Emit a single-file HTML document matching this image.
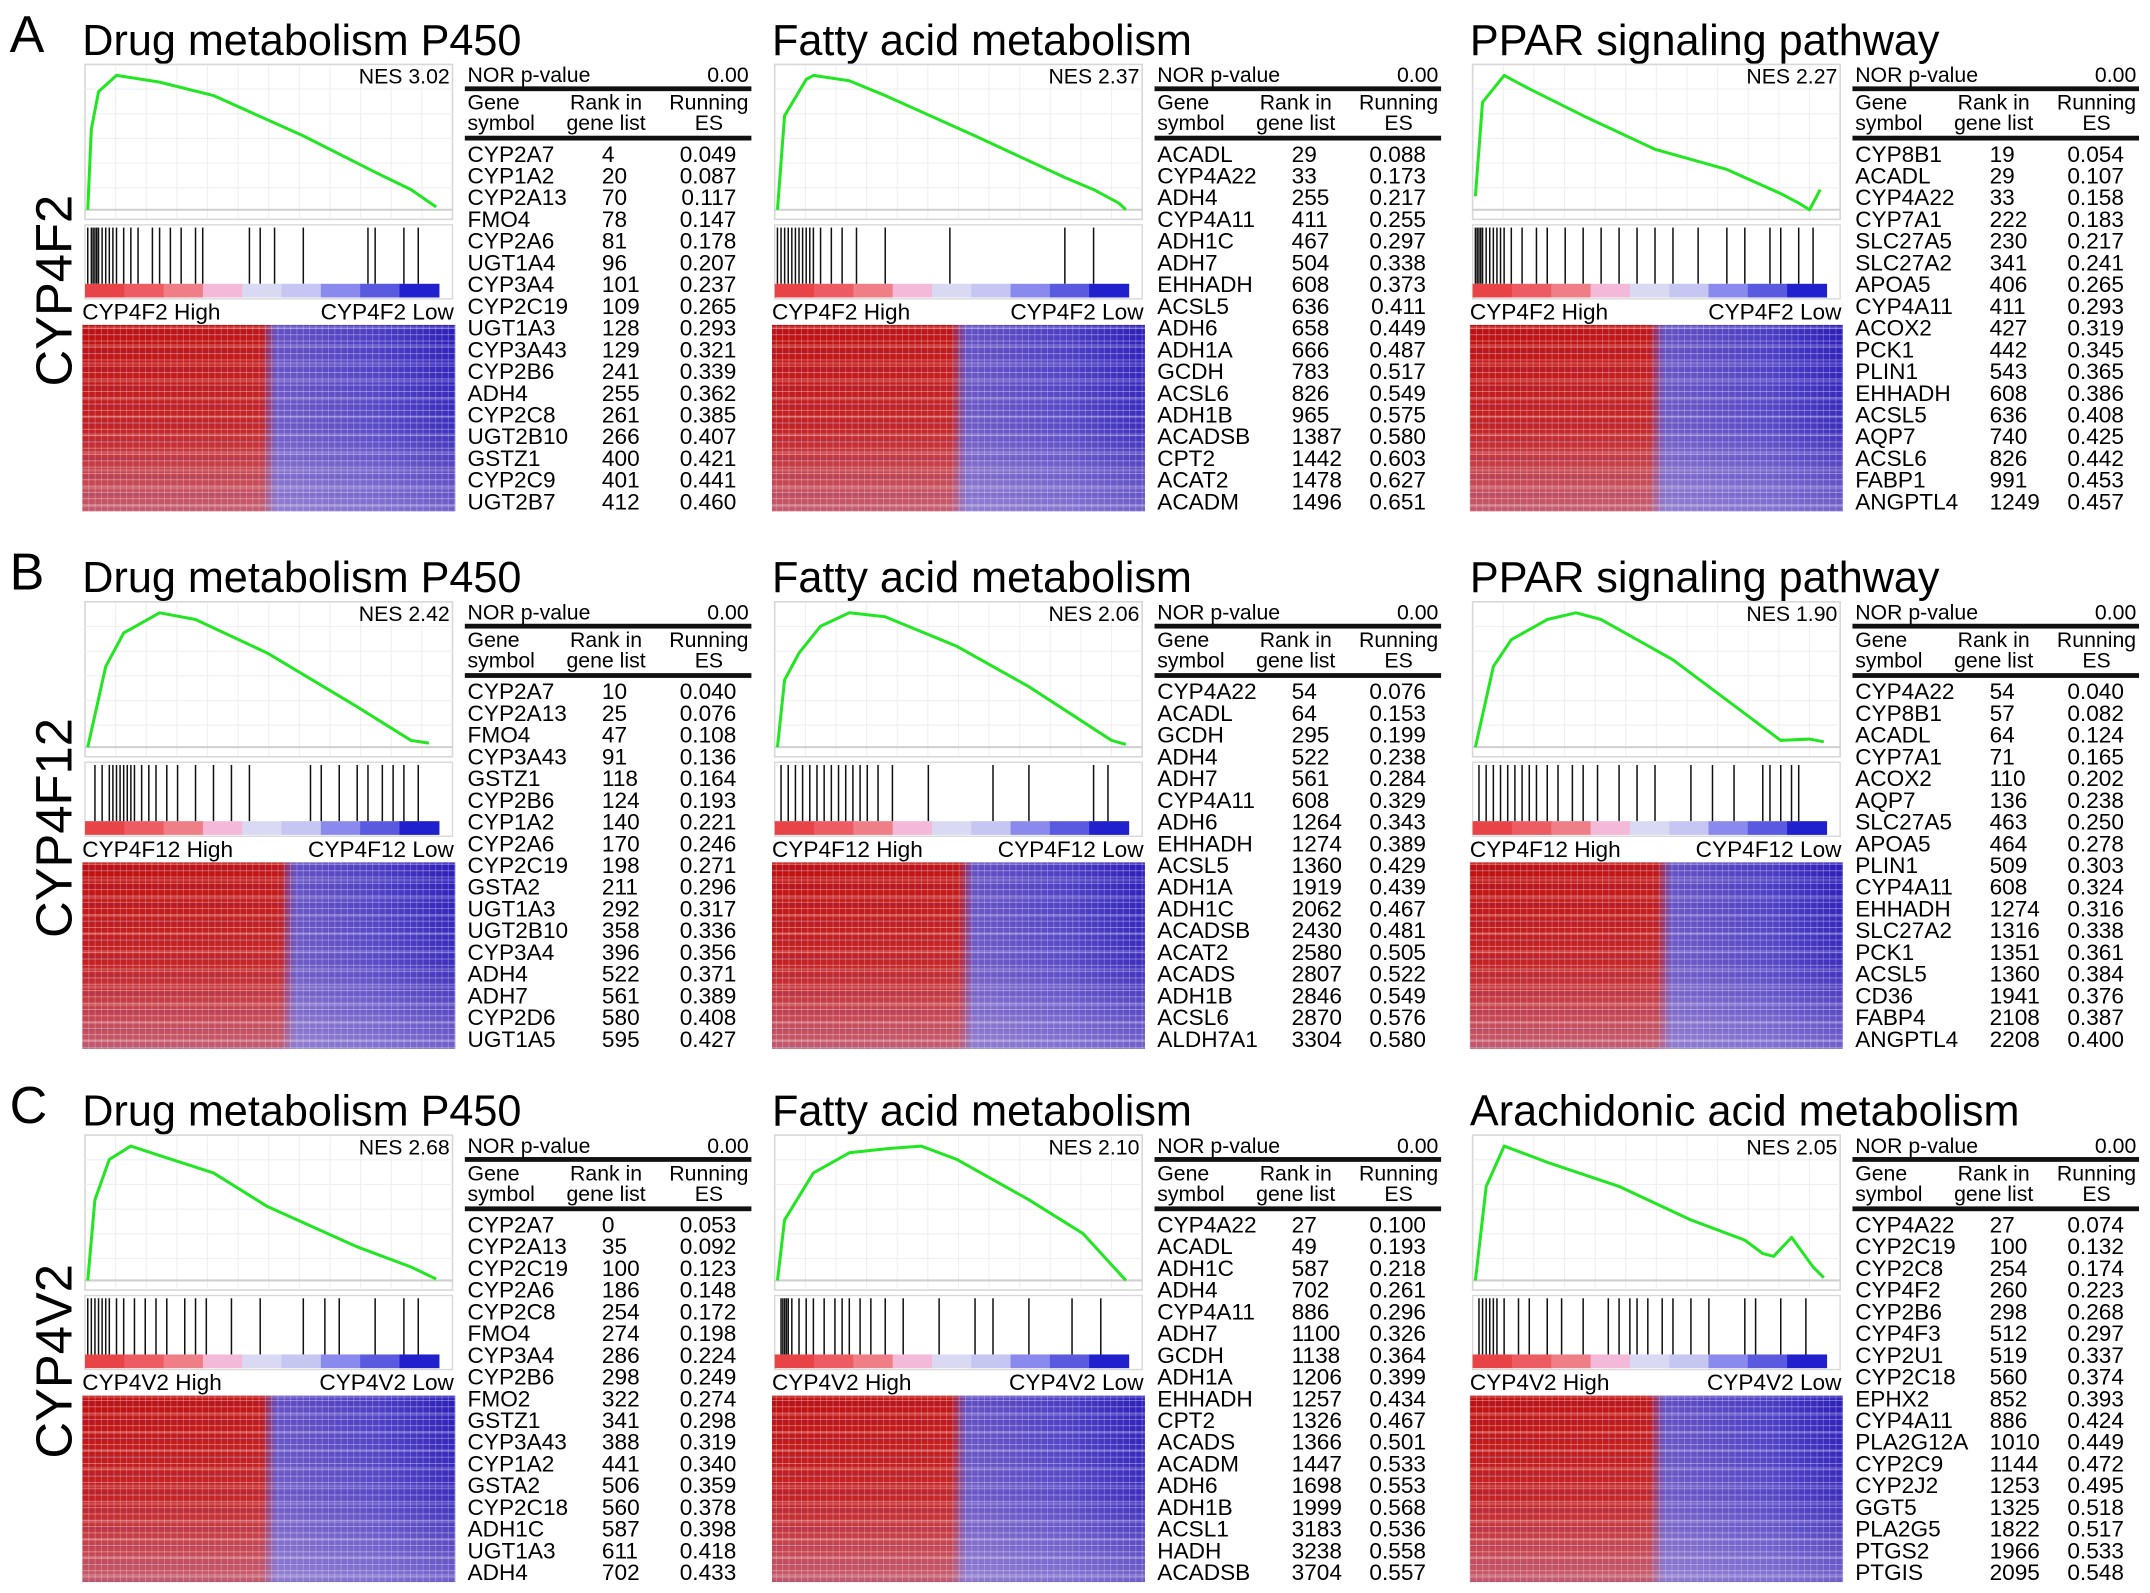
<!DOCTYPE html>
<html><head><meta charset="utf-8">
<style>
html,body{margin:0;padding:0;background:#fff;}
svg{display:block;font-family:"Liberation Sans",Arial,sans-serif;}
</style></head>
<body>
<svg id="fig" width="2150" height="1593" viewBox="0 0 1568 1162" preserveAspectRatio="none" xmlns="http://www.w3.org/2000/svg">
<defs>
<pattern id="grid" width="4.6" height="4.6" patternUnits="userSpaceOnUse">
<rect x="0" y="0" width="4.6" height="0.7" fill="#fff" fill-opacity="0.35"/>
<rect x="0" y="0" width="0.7" height="4.6" fill="#fff" fill-opacity="0.25"/>
</pattern>
<pattern id="bands" width="272" height="13" patternUnits="userSpaceOnUse">
<rect x="0" y="4" width="272" height="2" fill="#ffffff" fill-opacity="0.18"/>
<rect x="0" y="9" width="272" height="1.5" fill="#3030c0" fill-opacity="0.12"/>
</pattern>
<linearGradient id="fade" x1="0" y1="0" x2="0" y2="1">
<stop offset="0" stop-color="#ffffff" stop-opacity="0"/>
<stop offset="0.55" stop-color="#e0c8e0" stop-opacity="0.1"/>
<stop offset="1" stop-color="#c8b4e0" stop-opacity="0.45"/>
</linearGradient>
</defs>
</svg>
<script>
const rowLabels=["CYP4F2","CYP4F12","CYP4V2"];
const rowLetters=["A","B","C"];
const titles=[["Drug metabolism P450","Fatty acid metabolism","PPAR signaling pathway"],
["Drug metabolism P450","Fatty acid metabolism","PPAR signaling pathway"],
["Drug metabolism P450","Fatty acid metabolism","Arachidonic acid metabolism"]];
const nesValues=[["3.02","2.37","2.27"],["2.42","2.06","1.90"],["2.68","2.10","2.05"]];
const esRanks=[
[[0,0.01,0.03,0.08,0.2,0.35,0.6,0.8,0.9,0.97],[0,0.02,0.08,0.1,0.2,0.3,0.55,0.8,0.88,0.95,0.97],[0,0.02,0.08,0.15,0.3,0.5,0.7,0.85,0.9,0.93,0.96]],
[[0,0.05,0.1,0.2,0.3,0.5,0.75,0.9,0.95],[0,0.02,0.06,0.12,0.2,0.3,0.5,0.7,0.93,0.97],[0,0.05,0.1,0.2,0.28,0.35,0.55,0.75,0.85,0.93,0.97]],
[[0,0.02,0.06,0.12,0.2,0.35,0.5,0.75,0.9,0.97],[0,0.02,0.1,0.2,0.3,0.4,0.5,0.7,0.85,0.97],[0,0.03,0.08,0.2,0.4,0.6,0.75,0.8,0.83,0.88,0.94,0.97]]];
const esVals=[
[[0,0.6,0.88,1,0.95,0.85,0.55,0.28,0.15,0.02],[0,0.7,0.97,1,0.96,0.85,0.55,0.24,0.15,0.05,0.0],[0.1,0.8,1,0.9,0.7,0.45,0.3,0.12,0.05,0.0,0.15]],
[[0,0.6,0.85,1,0.95,0.7,0.3,0.05,0.03],[0,0.5,0.7,0.9,1,0.97,0.75,0.45,0.05,0.02],[0,0.6,0.8,0.95,1,0.95,0.65,0.25,0.05,0.06,0.04]],
[[0,0.6,0.9,1,0.93,0.8,0.55,0.25,0.1,0.01],[0,0.45,0.8,0.95,0.98,1,0.9,0.6,0.35,0.0],[0,0.7,1,0.88,0.7,0.45,0.3,0.2,0.18,0.32,0.1,0.02]]];
const hitRanks=[
[[0,0.01,0.015,0.02,0.025,0.03,0.04,0.05,0.06,0.07,0.08,0.1,0.12,0.14,0.18,0.2,0.23,0.26,0.3,0.32,0.45,0.48,0.52,0.6,0.78,0.8,0.88,0.92],
 [0,0.01,0.02,0.03,0.04,0.05,0.06,0.07,0.08,0.09,0.1,0.12,0.15,0.18,0.22,0.3,0.48,0.8,0.88],
 [0,0.005,0.01,0.015,0.02,0.03,0.04,0.05,0.06,0.07,0.08,0.1,0.13,0.17,0.2,0.25,0.3,0.35,0.4,0.45,0.5,0.55,0.62,0.7,0.75,0.82,0.85,0.9,0.94]],
[[0.02,0.04,0.06,0.07,0.08,0.09,0.1,0.11,0.12,0.13,0.15,0.17,0.19,0.22,0.25,0.3,0.35,0.4,0.45,0.62,0.65,0.7,0.75,0.78,0.82,0.85,0.88,0.92],
 [0.01,0.03,0.05,0.07,0.09,0.11,0.13,0.15,0.17,0.19,0.21,0.23,0.25,0.28,0.32,0.42,0.6,0.7,0.88,0.92],
 [0.01,0.03,0.05,0.07,0.09,0.11,0.13,0.15,0.17,0.2,0.23,0.27,0.3,0.34,0.4,0.45,0.5,0.6,0.66,0.72,0.8,0.82,0.85,0.88,0.9]],
[[0,0.01,0.02,0.03,0.04,0.05,0.06,0.08,0.1,0.13,0.16,0.19,0.22,0.27,0.3,0.33,0.4,0.48,0.6,0.66,0.7,0.8,0.88,0.92],
 [0.01,0.015,0.02,0.025,0.03,0.04,0.06,0.08,0.1,0.13,0.16,0.18,0.2,0.23,0.26,0.3,0.35,0.45,0.55,0.6,0.7,0.82,0.9],
 [0.01,0.02,0.03,0.04,0.05,0.06,0.08,0.12,0.15,0.2,0.24,0.3,0.37,0.4,0.43,0.45,0.48,0.52,0.55,0.6,0.65,0.75,0.78,0.85,0.92]]];
const colorSteps=["#e84448","#ec5c62","#f07e86","#f4b8d8","#d9d9f4","#c6c6f2","#8a8aee","#5a5ae0","#2020cc"];
const redFrac=[[0.5,0.5,0.5],[0.55,0.52,0.52],[0.5,0.5,0.5]];
const tableGenes=[
[["CYP2A7","CYP1A2","CYP2A13","FMO4","CYP2A6","UGT1A4","CYP3A4","CYP2C19","UGT1A3","CYP3A43","CYP2B6","ADH4","CYP2C8","UGT2B10","GSTZ1","CYP2C9","UGT2B7"],
 ["ACADL","CYP4A22","ADH4","CYP4A11","ADH1C","ADH7","EHHADH","ACSL5","ADH6","ADH1A","GCDH","ACSL6","ADH1B","ACADSB","CPT2","ACAT2","ACADM"],
 ["CYP8B1","ACADL","CYP4A22","CYP7A1","SLC27A5","SLC27A2","APOA5","CYP4A11","ACOX2","PCK1","PLIN1","EHHADH","ACSL5","AQP7","ACSL6","FABP1","ANGPTL4"]],
[["CYP2A7","CYP2A13","FMO4","CYP3A43","GSTZ1","CYP2B6","CYP1A2","CYP2A6","CYP2C19","GSTA2","UGT1A3","UGT2B10","CYP3A4","ADH4","ADH7","CYP2D6","UGT1A5"],
 ["CYP4A22","ACADL","GCDH","ADH4","ADH7","CYP4A11","ADH6","EHHADH","ACSL5","ADH1A","ADH1C","ACADSB","ACAT2","ACADS","ADH1B","ACSL6","ALDH7A1"],
 ["CYP4A22","CYP8B1","ACADL","CYP7A1","ACOX2","AQP7","SLC27A5","APOA5","PLIN1","CYP4A11","EHHADH","SLC27A2","PCK1","ACSL5","CD36","FABP4","ANGPTL4"]],
[["CYP2A7","CYP2A13","CYP2C19","CYP2A6","CYP2C8","FMO4","CYP3A4","CYP2B6","FMO2","GSTZ1","CYP3A43","CYP1A2","GSTA2","CYP2C18","ADH1C","UGT1A3","ADH4"],
 ["CYP4A22","ACADL","ADH1C","ADH4","CYP4A11","ADH7","GCDH","ADH1A","EHHADH","CPT2","ACADS","ACADM","ADH6","ADH1B","ACSL1","HADH","ACADSB"],
 ["CYP4A22","CYP2C19","CYP2C8","CYP4F2","CYP2B6","CYP4F3","CYP2U1","CYP2C18","EPHX2","CYP4A11","PLA2G12A","CYP2C9","CYP2J2","GGT5","PLA2G5","PTGS2","PTGIS"]]];
const tableRanks=[
[[4,20,70,78,81,96,101,109,128,129,241,255,261,266,400,401,412],
 [29,33,255,411,467,504,608,636,658,666,783,826,965,1387,1442,1478,1496],
 [19,29,33,222,230,341,406,411,427,442,543,608,636,740,826,991,1249]],
[[10,25,47,91,118,124,140,170,198,211,292,358,396,522,561,580,595],
 [54,64,295,522,561,608,1264,1274,1360,1919,2062,2430,2580,2807,2846,2870,3304],
 [54,57,64,71,110,136,463,464,509,608,1274,1316,1351,1360,1941,2108,2208]],
[[0,35,100,186,254,274,286,298,322,341,388,441,506,560,587,611,702],
 [27,49,587,702,886,1100,1138,1206,1257,1326,1366,1447,1698,1999,3183,3238,3704],
 [27,100,254,260,298,512,519,560,852,886,1010,1144,1253,1325,1822,1966,2095]]];
const tableES=[
[["0.049","0.087","0.117","0.147","0.178","0.207","0.237","0.265","0.293","0.321","0.339","0.362","0.385","0.407","0.421","0.441","0.460"],
 ["0.088","0.173","0.217","0.255","0.297","0.338","0.373","0.411","0.449","0.487","0.517","0.549","0.575","0.580","0.603","0.627","0.651"],
 ["0.054","0.107","0.158","0.183","0.217","0.241","0.265","0.293","0.319","0.345","0.365","0.386","0.408","0.425","0.442","0.453","0.457"]],
[["0.040","0.076","0.108","0.136","0.164","0.193","0.221","0.246","0.271","0.296","0.317","0.336","0.356","0.371","0.389","0.408","0.427"],
 ["0.076","0.153","0.199","0.238","0.284","0.329","0.343","0.389","0.429","0.439","0.467","0.481","0.505","0.522","0.549","0.576","0.580"],
 ["0.040","0.082","0.124","0.165","0.202","0.238","0.250","0.278","0.303","0.324","0.316","0.338","0.361","0.384","0.376","0.387","0.400"]],
[["0.053","0.092","0.123","0.148","0.172","0.198","0.224","0.249","0.274","0.298","0.319","0.340","0.359","0.378","0.398","0.418","0.433"],
 ["0.100","0.193","0.218","0.261","0.296","0.326","0.364","0.399","0.434","0.467","0.501","0.533","0.553","0.568","0.536","0.558","0.557"],
 ["0.074","0.132","0.174","0.223","0.268","0.297","0.337","0.374","0.393","0.424","0.449","0.472","0.495","0.518","0.517","0.533","0.548"]]];

const NS="http://www.w3.org/2000/svg";
const svg=document.getElementById('fig');
function mk(tag,attrs,parent,text){const e=document.createElementNS(NS,tag);for(const k in attrs)e.setAttribute(k,attrs[k]);if(text!==undefined)e.textContent=text;(parent||svg).appendChild(e);return e;}
const colX=[60,563,1072];
const rowY=[0,392,781];
const PW=268;
function xScale(px,f){return px+2+f*(PW-6);}
function yScale(top,v){return 153-v*(153-top);}

for(let r=0;r<3;r++){
  const oy=rowY[r];
  const L=mk('text',{x:7,y:oy+38,'font-size':38},svg,rowLetters[r]);
  
  
  const cy=oy+212;
  const RL=mk('text',{x:0,y:0,'font-size':37,'text-anchor':'middle',transform:`translate(52 ${cy}) rotate(-90)`},svg,rowLabels[r]);
  
  
  for(let c=0;c<3;c++){
    const px=colX[c]+2;
    const g=mk('g',{});
    
    
    const t=mk('text',{x:colX[c],y:oy+40,'font-size':31.5},g,titles[r][c]);
    
    
    const box=mk('rect',{x:px,y:oy+47,width:PW,height:113,fill:'#fff',stroke:'#d8d8d8','stroke-width':1.2},g);
    
    
    for(let i=1;i<12;i++){mk('line',{x1:px+i*PW/12,x2:px+i*PW/12,y1:oy+48,y2:oy+159,stroke:'#efefef','stroke-width':0.8},g);}
    for(let i=1;i<6;i++){mk('line',{x1:px,x2:px+PW,y1:oy+47+i*18,y2:oy+47+i*18,stroke:'#efefef','stroke-width':0.8},g);}
    mk('line',{x1:px,x2:px+PW,y1:oy+153,y2:oy+153,stroke:'#cfcfcf','stroke-width':1.5},g);
    const pts=esRanks[r][c].map((f,i)=>xScale(px,f).toFixed(1)+','+(oy+yScale(55,esVals[r][c][i])).toFixed(1)).join(' ');
    const line=mk('polyline',{points:pts,fill:'none',stroke:'#22e622','stroke-width':2.2,'stroke-linejoin':'round'},g);
    
    
    const nes=mk('text',{x:px+PW-2,y:oy+61,'font-size':15.5,'text-anchor':'end'},g,'NES '+nesValues[r][c]);
    
    
    mk('rect',{x:px,y:oy+164,width:PW,height:54,fill:'#fff',stroke:'#d8d8d8','stroke-width':1},g);
    const hb=mk('g',{},g);
    
    
    hitRanks[r][c].forEach(f=>{
      const hx=xScale(px,f);
      const h=mk('line',{x1:hx,x2:hx,y1:oy+166,y2:oy+207,stroke:'#111','stroke-width':1.1},hb);
      
      
    });
    const segW=(PW-10)/colorSteps.length;
    colorSteps.forEach((col,i)=>{
      const s=mk('rect',{x:px+i*segW,y:oy+207,width:segW+0.5,height:10,fill:col},g);
      
      
    });
    const gname=rowLabels[r];
    const hi=mk('text',{x:colX[c],y:oy+233,'font-size':16.5},g,gname+' High');
    
    
    const lo=mk('text',{x:px+PW+1,y:oy+233,'font-size':16.5,'text-anchor':'end'},g,gname+' Low');
    
    
    const gid='hg'+r+c, rf=redFrac[r][c];
    const defs=svg.querySelector('defs');
    const lg=mk('linearGradient',{id:gid,x1:0,y1:0,x2:1,y2:0},defs);
    [[0,'#c00e0e'],[rf-0.02,'#c21414'],[rf+0.02,'#6450c4'],[0.8,'#4a3cc4'],[1,'#2a1cb8']].forEach(s=>mk('stop',{offset:s[0],'stop-color':s[1]},lg));
    const hm=mk('g',{},g);
    
    
    mk('rect',{x:colX[c],y:oy+237,width:272,height:136,fill:'url(#'+gid+')'},hm);
    mk('rect',{x:colX[c],y:oy+237,width:272,height:136,fill:'url(#fade)'},hm);
    mk('rect',{x:colX[c],y:oy+237,width:272,height:136,fill:'url(#bands)'},hm);
    mk('rect',{x:colX[c],y:oy+237,width:272,height:136,fill:'url(#grid)'},hm);
    const tx=colX[c]+279, tw=209;
    const tb=mk('g',{},g);
    
    
    mk('text',{x:tx+2,y:oy+60,'font-size':15.5},tb,'NOR p-value');
    mk('text',{x:tx+tw-2,y:oy+60,'font-size':15.5,'text-anchor':'end'},tb,'0.00');
    mk('rect',{x:tx,y:oy+63,width:tw,height:3.5,fill:'#111'},tb);
    mk('text',{x:tx+2,y:oy+80,'font-size':15.5},tb,'Gene');
    mk('text',{x:tx+2,y:oy+95,'font-size':15.5},tb,'symbol');
    mk('text',{x:tx+103,y:oy+80,'font-size':15.5,'text-anchor':'middle'},tb,'Rank in');
    mk('text',{x:tx+103,y:oy+95,'font-size':15.5,'text-anchor':'middle'},tb,'gene list');
    mk('text',{x:tx+178,y:oy+80,'font-size':15.5,'text-anchor':'middle'},tb,'Running');
    mk('text',{x:tx+178,y:oy+95,'font-size':15.5,'text-anchor':'middle'},tb,'ES');
    mk('rect',{x:tx,y:oy+99,width:tw,height:3.5,fill:'#111'},tb);
    tableGenes[r][c].forEach((gn,i)=>{
      const yy=oy+118+i*15.85;
      const rw=mk('g',{},tb);
      
      
      mk('text',{x:tx+2,y:yy,'font-size':16.5},rw,gn);
      mk('text',{x:tx+100,y:yy,'font-size':16.5},rw,String(tableRanks[r][c][i]));
      mk('text',{x:tx+198,y:yy,'font-size':16.5,'text-anchor':'end'},rw,tableES[r][c][i]);
    });
  }
}
</script>
</body></html>
